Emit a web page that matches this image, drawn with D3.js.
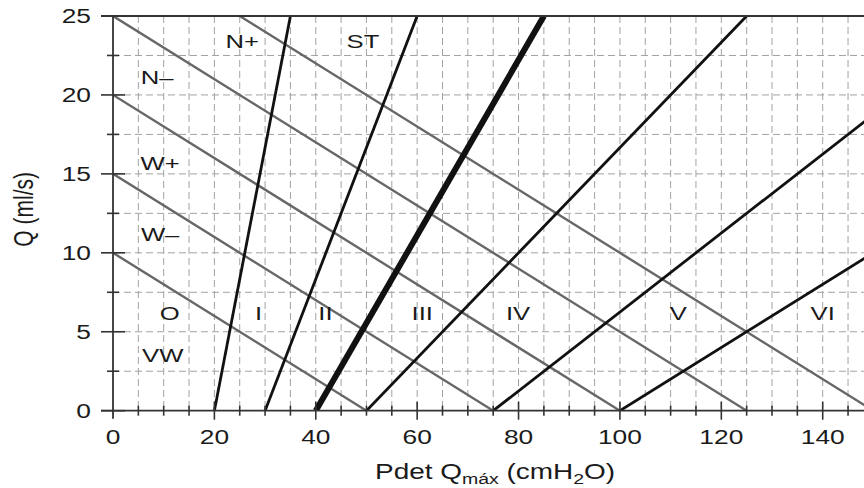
<!DOCTYPE html>
<html>
<head>
<meta charset="utf-8">
<script src="https://cdn.jsdelivr.net/npm/d3@7"></script>
<style>
  html, body { margin: 0; padding: 0; background: #fff; }
  svg { display: block; font-family: "Liberation Sans", Arial, Helvetica, sans-serif; }
</style>
</head>
<body>
<div id="chart"></div>
<script>
// axis ticks
const xTicks = [0, 20, 40, 60, 80, 100, 120, 140];
const yTicks = [0, 5, 10, 15, 20, 25];

// grey lines: Pdet + 5*Q = constant
const contractilityConst = [50, 75, 100, 125, 150];

// black lines: Pdet = intercept + slope * Q
const obstructionIntercept = [20, 30, 40, 50, 75, 100];
const obstructionSlope = [0.6, 1.2, 1.8, 3, 4, 5];
const thickIntercept = 40;

// zone labels (Pdet, Q)
const zoneLabels = ["O", "I", "II", "III", "IV", "V", "VI", "VW", "W\u2013", "W+", "N\u2013", "N+", "ST"];
const zoneP = [11.2, 28.7, 41.9, 61, 79.9, 111.5, 140, 9.8, 9.3, 9.3, 8.7, 25.5, 49.3];
const zoneQ = [6.2, 6.2, 6.2, 6.2, 6.2, 6.2, 6.2, 3.5, 11.2, 15.7, 21.1, 23.4, 23.4];

const width = 864, height = 488;
const sx = 1.35; // the type in the original is stretched sideways
const x = d3.scaleLinear().domain([0, 140]).range([113, 822.7]);
const y = d3.scaleLinear().domain([0, 25]).range([410.7, 16]);
const xMax = x.invert(width);

const svg = d3.select("#chart").append("svg")
    .attr("width", width)
    .attr("height", height);

svg.append("clipPath").attr("id", "plot")
    .append("rect")
    .attr("x", x(0)).attr("y", y(25))
    .attr("width", width - x(0)).attr("height", y(0) - y(25));

// dashed grid
const grid = svg.append("g")
    .attr("stroke", "#a2a2a2")
    .attr("stroke-width", 1)
    .attr("stroke-dasharray", "7,4");

grid.selectAll("line.v")
    .data(d3.range(5, xMax, 5))
    .join("line")
    .attr("class", "v")
    .attr("x1", d => x(d)).attr("x2", d => x(d))
    .attr("y1", y(25)).attr("y2", y(0));

grid.selectAll("line.h")
    .data(d3.range(2.5, 25, 2.5))
    .join("line")
    .attr("class", "h")
    .attr("x1", x(0)).attr("x2", width)
    .attr("y1", d => y(d)).attr("y2", d => y(d));

const plot = svg.append("g").attr("clip-path", "url(#plot)");

plot.selectAll("line.grey")
    .data(contractilityConst)
    .join("line")
    .attr("class", "grey")
    .attr("x1", x(0)).attr("y1", d => y(d / 5))
    .attr("x2", d => x(d)).attr("y2", y(0))
    .attr("stroke", "#676767")
    .attr("stroke-width", 2.4);

plot.selectAll("line.black")
    .data(obstructionIntercept)
    .join("line")
    .attr("class", "black")
    .attr("x1", d => x(d)).attr("y1", y(0))
    .attr("x2", (d, i) => x(d + obstructionSlope[i] * 25)).attr("y2", y(25))
    .attr("stroke", "#111")
    .attr("stroke-width", d => d === thickIntercept ? 6 : 2.8);

// axes frame
const axisColor = "#333";
svg.append("line")
    .attr("x1", x(0)).attr("x2", x(0))
    .attr("y1", y(25)).attr("y2", y(0) + 8)
    .attr("stroke", axisColor).attr("stroke-width", 1.8);
svg.append("line")
    .attr("x1", x(0) - 12).attr("x2", width)
    .attr("y1", y(0)).attr("y2", y(0))
    .attr("stroke", axisColor).attr("stroke-width", 1.8);
svg.append("line")
    .attr("x1", x(0) - 12).attr("x2", width)
    .attr("y1", y(25)).attr("y2", y(25))
    .attr("stroke", axisColor).attr("stroke-width", 1.8);

// y ticks
svg.selectAll("line.ytick")
    .data(d3.range(0, 25.01, 2.5))
    .join("line")
    .attr("class", "ytick")
    .attr("x1", d => x(0) - (d % 5 === 0 ? 12 : 6))
    .attr("x2", d => x(0) + (d % 5 === 0 ? 12 : 6))
    .attr("y1", d => y(d)).attr("y2", d => y(d))
    .attr("stroke", axisColor).attr("stroke-width", 1.6);

// x ticks
svg.selectAll("line.xtick")
    .data(d3.range(5, xMax, 5))
    .join("line")
    .attr("class", "xtick")
    .attr("x1", d => x(d)).attr("x2", d => x(d))
    .attr("y1", d => y(0) - (d % 20 === 0 ? 9 : 5))
    .attr("y2", d => y(0) + (d % 20 === 0 ? 9 : 5))
    .attr("stroke", axisColor).attr("stroke-width", 1.6);

svg.selectAll("text.ylab")
    .data(yTicks)
    .join("text")
    .attr("class", "ylab")
    .attr("transform", d => `translate(91,${y(d)}) scale(${sx},1)`)
    .attr("dy", "0.36em")
    .attr("text-anchor", "end")
    .attr("font-size", 19.5)
    .attr("fill", "#1a1a1a")
    .text(d => d);

svg.selectAll("text.xlab")
    .data(xTicks)
    .join("text")
    .attr("class", "xlab")
    .attr("transform", d => `translate(${x(d)},444) scale(${sx},1)`)
    .attr("text-anchor", "middle")
    .attr("font-size", 19.5)
    .attr("fill", "#1a1a1a")
    .text(d => d);

// zone labels
svg.selectAll("text.zone")
    .data(zoneLabels)
    .join("text")
    .attr("class", "zone")
    .attr("transform", (d, i) => `translate(${x(zoneP[i])},${y(zoneQ[i])}) scale(${sx},1)`)
    .attr("dy", "0.36em")
    .attr("text-anchor", "middle")
    .attr("font-size", 19)
    .attr("fill", "#1a1a1a")
    .text(d => d);

// axis titles
svg.append("text")
    .attr("transform", `translate(33,${(y(0) + y(25)) / 2 - 4}) scale(${sx},1) rotate(-90)`)
    .attr("text-anchor", "middle")
    .attr("font-size", 21)
    .attr("fill", "#1a1a1a")
    .text("Q (ml/s)");

const xt = svg.append("text")
    .attr("transform", `translate(375,479) scale(1.3,1)`)
    .attr("font-size", 21.5)
    .attr("fill", "#1a1a1a");
xt.append("tspan").text("Pdet Q");
xt.append("tspan").attr("font-size", 15).attr("dy", 5).text("máx");
xt.append("tspan").attr("dy", -5).text(" (cmH");
xt.append("tspan").attr("font-size", 15).attr("dy", 5).text("2");
xt.append("tspan").attr("dy", -5).text("O)");
</script>
</body>
</html>
